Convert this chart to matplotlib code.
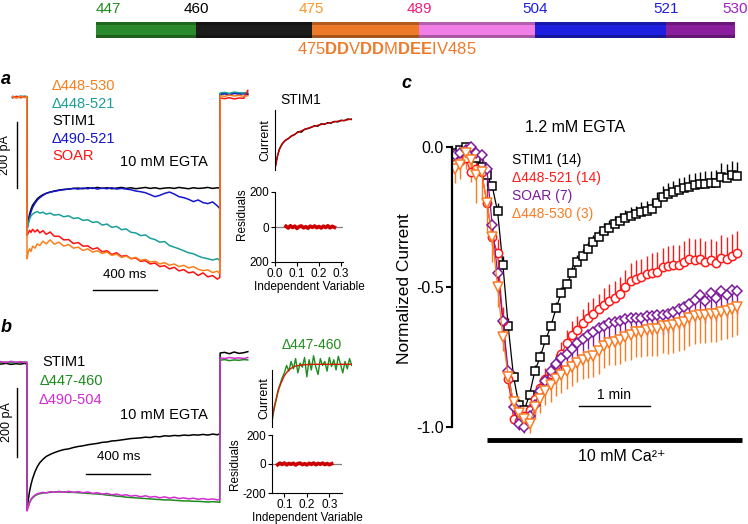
import numpy as np
import matplotlib.pyplot as plt

plt.rcParams['font.family'] = ['Liberation Sans', 'DejaVu Sans']
plt.rcParams['mathtext.fontset'] = 'custom'
plt.rcParams['mathtext.rm'] = 'Liberation Sans'
plt.rcParams['mathtext.bf'] = 'Liberation Sans:bold'

W, H = 748, 524

# ---------------- domain map ----------------
domain_edges = [447, 460, 475, 489, 504, 521, 530]
domain_colors = ['#2b8a2b', '#1c1c1c', '#ec7a28', '#f07ee6', '#1f1fe0', '#8a1f9e']
edge_label_colors = ['#1f8a1f', '#000000', '#f59a2a', '#e8207c', '#1f1fe0', '#1f1fe0', '#a020c0']
motif_text = r'475$\mathbf{DD}$V$\mathbf{DD}$M$\mathbf{DEE}$IV485'

# ---------------- panel a / b traces (ms, pA) ----------------
t_pre_a = [-90, -65, -40, -15, -1]
t_pre_b = [-165, -130, -100, -70, -40, -15, -1]
t_pulse = [0, 8, 16, 25, 35, 50, 65, 80, 100, 120,
           145, 170, 200, 230, 260, 290, 320, 350, 380, 410,
           440, 470, 500, 530, 560, 590, 620, 650, 680, 710,
           740, 770, 800, 830, 860, 890, 920, 950, 980, 1010,
           1040, 1070, 1100, 1130, 1160, 1190, 1205]
t_post = [1207, 1235, 1265, 1295, 1325, 1355, 1380]

a_colors = ['#000000', '#1515d0', '#1a9e9a', '#ff1010', '#f7801c']
a_pre = [[-2, 1, -1, 2, 0],
         [0, -2, 1, -1, 1],
         [2, 0, 3, 1, 2],
         [-1, 2, -2, 0, -1],
         [1, -3, 2, -2, 1]]
a_pulse = [
    [-400, -375, -355, -340, -328, -318, -308, -302, -296, -292,
     -288, -285, -282, -280, -279, -277, -276, -278, -275, -277,
     -274, -277, -275, -278, -276, -274, -277, -275, -278, -276,
     -274, -277, -275, -278, -276, -275, -277, -274, -276, -278,
     -275, -277, -276, -274, -277, -275, -276],
    [-400, -380, -362, -348, -335, -322, -312, -305, -298, -292,
     -288, -286, -283, -281, -279, -277, -279, -276, -278, -275,
     -279, -276, -278, -275, -279, -277, -279, -281, -285, -287,
     -290, -296, -302, -298, -292, -288, -294, -302, -305, -310,
     -317, -312, -320, -323, -318, -330, -338],
    [-405, -385, -370, -360, -355, -350, -347, -352, -349, -355,
     -352, -358, -356, -363, -360, -368, -366, -374, -372, -380,
     -378, -388, -385, -395, -392, -402, -400, -410, -412, -420,
     -418, -428, -432, -440, -438, -450, -455, -460, -466, -472,
     -475, -482, -487, -490, -494, -490, -495],
    [-420, -412, -404, -410, -401, -409, -402, -412, -405, -416,
     -409, -422, -422, -433, -432, -444, -441, -452, -451, -461,
     -457, -469, -466, -477, -472, -483, -480, -490, -488, -498,
     -496, -506, -503, -514, -511, -521, -516, -527, -523, -533,
     -530, -541, -533, -545, -541, -552, -547],
    [-490, -470, -460, -468, -452, -458, -445, -450, -437, -445,
     -433, -446, -440, -452, -447, -458, -455, -465, -460, -470,
     -466, -474, -470, -480, -476, -486, -482, -490, -486, -495,
     -492, -500, -498, -506, -502, -510, -506, -514, -510, -518,
     -514, -522, -526, -524, -532, -528, -535],
]
a_post = [[9, 11, 8, 12, 10, 11, 9],
          [8, 10, 7, 11, 9, 10, 8],
          [12, 14, 11, 15, 13, 12, 14],
          [-3, -5, -2, -6, -3, -4, 20],
          [4, 2, 6, 3, 5, 2, 4]]
a_legend = ['\u0394448-530', '\u0394448-521', 'STIM1', '\u0394490-521', 'SOAR']
a_legend_colors = ['#f7801c', '#1a9e9a', '#000000', '#1515d0', '#ff1010']

b_colors = ['#000000', '#1e8c1e', '#d22cd2']
b_pre = [[-6, -4, -7, -5, -6, -4, -6],
         [-2, 0, -3, -1, -2, 0, -1],
         [1, -2, 2, -1, 1, -2, 0]]
b_pulse = [
    [-430, -400, -375, -355, -338, -318, -303, -292, -282, -274,
     -268, -263, -258, -254, -252, -248, -245, -243, -240, -238,
     -236, -233, -232, -229, -228, -226, -224, -222, -221, -220,
     -218, -219, -216, -217, -214, -215, -213, -214, -212, -213,
     -211, -212, -210, -212, -209, -211, -208],
    [-430, -418, -408, -400, -394, -388, -384, -382, -380, -379,
     -378, -377, -377, -377, -378, -378, -379, -380, -381, -382,
     -383, -384, -386, -387, -389, -390, -392, -393, -394, -395,
     -396, -397, -398, -399, -400, -400, -401, -402, -403, -403,
     -404, -404, -405, -406, -405, -406, -407],
    [-432, -420, -408, -398, -392, -386, -382, -380, -378, -380,
     -376, -378, -375, -378, -375, -378, -376, -379, -377, -381,
     -379, -383, -381, -385, -383, -387, -385, -389, -387, -391,
     -388, -392, -390, -394, -391, -395, -392, -396, -394, -397,
     -395, -398, -396, -399, -397, -400, -398],
]
b_post = [[26, 28, 24, 29, 25, 27, 30],
          [5, 7, 4, 6, 5, 7, 6],
          [12, 10, 13, 11, 12, 10, 13]]
b_legend = ['STIM1', '\u0394447-460', '\u0394490-504']

# ---------------- fit insets ----------------
fit_a_t = [0, 0.01, 0.02, 0.035, 0.05, 0.07, 0.1, 0.13, 0.16, 0.2, 0.24, 0.28, 0.32, 0.35]
fit_a_v = [0.03, 0.22, 0.34, 0.45, 0.5, 0.55, 0.62, 0.67, 0.71, 0.75, 0.78, 0.81, 0.83, 0.85]
data_a_t = [0, 0.01, 0.02, 0.03, 0.045, 0.06, 0.075, 0.09, 0.105, 0.12,
            0.135, 0.15, 0.165, 0.18, 0.195, 0.21, 0.225, 0.24, 0.255, 0.27,
            0.285, 0.3, 0.315, 0.33, 0.35]
data_a_v = [0.02, 0.21, 0.35, 0.42, 0.49, 0.52, 0.57, 0.59, 0.64, 0.63,
            0.68, 0.69, 0.71, 0.74, 0.73, 0.77, 0.76, 0.79, 0.78, 0.81,
            0.80, 0.83, 0.82, 0.85, 0.84]
res_a_t = [0.05, 0.06, 0.07, 0.08, 0.09, 0.10, 0.11, 0.12, 0.13, 0.14,
           0.15, 0.16, 0.17, 0.18, 0.19, 0.20, 0.21, 0.22, 0.23, 0.24,
           0.25, 0.26, 0.27]
res_a_v = [4, -6, 7, -3, 5, -8, 3, 6, -5, 2,
           -7, 5, -2, 6, -4, 3, -6, 5, -3, 7,
           -5, 4, -2]

fit_b_t = [0.045, 0.055, 0.065, 0.075, 0.085, 0.1, 0.115, 0.13, 0.15, 0.18, 0.22, 0.3, 0.4]
fit_b_v = [0.15, 0.35, 0.52, 0.66, 0.77, 0.9, 0.98, 1.03, 1.07, 1.09, 1.1, 1.1, 1.1]
data_b_t = [0.045, 0.05, 0.058, 0.065, 0.072, 0.08, 0.09, 0.10, 0.11, 0.12,
            0.13, 0.14, 0.15, 0.16, 0.17, 0.18, 0.19, 0.20, 0.21, 0.22,
            0.23, 0.24, 0.25, 0.26, 0.27, 0.28, 0.29, 0.30, 0.31, 0.32,
            0.33, 0.34, 0.35, 0.36, 0.37, 0.38, 0.39, 0.40]
data_b_v = [0.08, 0.22, 0.38, 0.50, 0.65, 0.74, 0.86, 0.95, 1.08, 0.98,
            1.15, 1.02, 1.20, 0.95, 1.12, 1.05, 1.22, 0.88, 1.18, 1.00,
            1.25, 1.05, 0.92, 1.20, 1.08, 1.15, 0.98, 1.22, 1.06, 1.18,
            1.00, 1.24, 1.10, 0.95, 1.15, 1.02, 1.20, 1.08]
res_b_t = [0.07, 0.08, 0.09, 0.10, 0.11, 0.12, 0.13, 0.14, 0.15, 0.16,
           0.17, 0.18, 0.19, 0.20, 0.21, 0.22, 0.23, 0.24, 0.25, 0.26,
           0.27, 0.28, 0.29, 0.30, 0.31]
res_b_v = [-5, 6, -3, 7, -6, 4, -2, 5, -7, 3,
           6, -4, 2, -6, 5, -3, 7, -5, 4, -2,
           6, -4, 3, -5, 2]

# ---------------- panel c (s, normalized current) ----------------
c_time = 2.5 + 4.5 * np.arange(54)
stim1 = [-0.02, -0.01, 0.0, -0.02, -0.04, -0.07, -0.10, -0.14, -0.23, -0.42,
         -0.64, -0.82, -0.92, -0.94, -0.885, -0.80, -0.75, -0.69, -0.64, -0.575,
         -0.52, -0.49, -0.45, -0.41, -0.39, -0.365, -0.34, -0.32, -0.30, -0.29,
         -0.275, -0.265, -0.255, -0.245, -0.24, -0.232, -0.228, -0.222, -0.20, -0.18,
         -0.168, -0.16, -0.152, -0.146, -0.142, -0.137, -0.133, -0.131, -0.13, -0.128,
         -0.108, -0.112, -0.10, -0.105]
d448_521 = [-0.06, -0.05, -0.04, -0.09, -0.08, -0.09, -0.20, -0.32, -0.38, -0.62,
            -0.83, -0.97, -0.98, -0.96, -0.94, -0.90, -0.86, -0.83, -0.81, -0.78,
            -0.74, -0.70, -0.67, -0.655, -0.63, -0.61, -0.595, -0.58, -0.565, -0.55,
            -0.54, -0.525, -0.50, -0.48, -0.47, -0.465, -0.455, -0.45, -0.445, -0.43,
            -0.425, -0.42, -0.42, -0.41, -0.40, -0.405, -0.40, -0.41, -0.405, -0.415,
            -0.395, -0.40, -0.39, -0.38]
soar = [-0.03, -0.02, -0.01, 0.0, -0.02, -0.03, -0.08, -0.28, -0.45, -0.62,
        -0.80, -0.93, -0.99, -1.0, -0.96, -0.92, -0.87, -0.835, -0.80, -0.775,
        -0.755, -0.74, -0.72, -0.70, -0.685, -0.67, -0.66, -0.645, -0.64, -0.63,
        -0.625, -0.62, -0.615, -0.61, -0.61, -0.61, -0.605, -0.605, -0.60, -0.60,
        -0.595, -0.59, -0.58, -0.57, -0.56, -0.545, -0.53, -0.55, -0.52, -0.54,
        -0.515, -0.53, -0.51, -0.515]
d448_530 = [-0.08, -0.065, -0.02, -0.045, -0.10, -0.09, -0.20, -0.32, -0.50, -0.68,
            -0.82, -0.91, -0.95, -0.97, -0.99, -0.93, -0.90, -0.87, -0.85, -0.83,
            -0.815, -0.80, -0.785, -0.77, -0.76, -0.75, -0.745, -0.73, -0.71, -0.70,
            -0.695, -0.69, -0.68, -0.67, -0.66, -0.66, -0.655, -0.65, -0.65, -0.64,
            -0.64, -0.635, -0.63, -0.625, -0.61, -0.605, -0.60, -0.60, -0.595, -0.595,
            -0.59, -0.585, -0.58, -0.57]
stim1_err = [0.01, 0.01, 0.01, 0.01, 0.015, 0.015, 0.02, 0.02, 0.03, 0.03,
             0.03, 0.02, 0.02, 0.02, 0.02, 0.02, 0.02, 0.02, 0.02, 0.02,
             0.02, 0.02, 0.025, 0.025, 0.025, 0.025, 0.025, 0.025, 0.03, 0.03,
             0.03, 0.03, 0.03, 0.03, 0.03, 0.035, 0.035, 0.035, 0.04, 0.04,
             0.04, 0.04, 0.04, 0.04, 0.045, 0.045, 0.045, 0.045, 0.045, 0.045,
             0.05, 0.05, 0.05, 0.05]
d448_521_err = [0.03, 0.03, 0.03, 0.04, 0.04, 0.04, 0.05, 0.06, 0.05, 0.05,
                0.04, 0.03, 0.03, 0.03, 0.03, 0.035, 0.035, 0.04, 0.04, 0.04,
                0.045, 0.045, 0.05, 0.05, 0.05, 0.055, 0.055, 0.055, 0.06, 0.06,
                0.06, 0.06, 0.06, 0.065, 0.065, 0.065, 0.065, 0.07, 0.07, 0.07,
                0.07, 0.07, 0.07, 0.075, 0.075, 0.075, 0.075, 0.075, 0.075, 0.08,
                0.08, 0.08, 0.08, 0.08]
soar_err = [0.03, 0.03, 0.03, 0.03, 0.03, 0.04, 0.06, 0.07, 0.06, 0.05,
            0.04, 0.03, 0.02, 0.02, 0.03, 0.03, 0.03, 0.035, 0.035, 0.04,
            0.04, 0.04, 0.045, 0.045, 0.045, 0.05, 0.05, 0.05, 0.05, 0.055,
            0.055, 0.055, 0.06, 0.06, 0.06, 0.06, 0.065, 0.065, 0.065, 0.07,
            0.07, 0.07, 0.07, 0.075, 0.075, 0.075, 0.08, 0.08, 0.08, 0.08,
            0.08, 0.08, 0.08, 0.08]
d448_530_err = [0.05, 0.05, 0.06, 0.08, 0.10, 0.10, 0.10, 0.09, 0.07, 0.05,
                0.04, 0.03, 0.03, 0.03, 0.03, 0.04, 0.05, 0.05, 0.06, 0.06,
                0.065, 0.065, 0.07, 0.07, 0.07, 0.075, 0.075, 0.08, 0.08, 0.08,
                0.085, 0.085, 0.085, 0.09, 0.09, 0.09, 0.09, 0.095, 0.095, 0.095,
                0.1, 0.1, 0.1, 0.1, 0.1, 0.1, 0.1, 0.1, 0.1, 0.1,
                0.1, 0.1, 0.1, 0.1]
c_labels = ['STIM1 (14)', '\u0394448-521 (14)', 'SOAR (7)', '\u0394448-530 (3)']
c_colors = ['#000000', '#ff1a1a', '#7d1a9a', '#fb7b22']

fig = plt.figure(figsize=(W / 100, H / 100), dpi=100)


def px_axes(x0, y0, x1, y1):
    return fig.add_axes([x0 / W, 1 - y1 / H, (x1 - x0) / W, (y1 - y0) / H])


def ftext(x, y, s, **kw):
    fig.text(x / W, 1 - y / H, s, **kw)


def shade(c, f):
    r, g, b = plt.matplotlib.colors.to_rgb(c)
    return (r * f, g * f, b * f)


# ---- domain bar ----
ax = px_axes(96, 22, 735, 38)
ax.set_xlim(domain_edges[0], domain_edges[-1])
ax.set_ylim(-0.5, 0.5)
for i, c in enumerate(domain_colors):
    w = domain_edges[i + 1] - domain_edges[i]
    ax.barh(0, w, left=domain_edges[i], height=1.0, color=c, linewidth=0)
    ax.barh(0.42, w, left=domain_edges[i], height=0.16, color=shade(c, 0.75), linewidth=0)
    ax.barh(-0.40, w, left=domain_edges[i], height=0.2, color=shade(c, 0.7), linewidth=0)
for i, e in enumerate(domain_edges):
    ha = 'left' if i == 0 else 'center'
    ax.text(e, 1.3, str(e), ha=ha, va='center', fontsize=11, color=edge_label_colors[i])
ax.axis('off')
ftext(387, 49, motif_text, ha='center', va='center', fontsize=12, color='#ec7a28')

# ---- panel a ----
ax = px_axes(0, 85, 250, 295)
ax.set_xlim(-168.75, 1393.75)
ax.set_ylim(-600, 36.4)
ax.axis('off')
for k in range(5):
    ax.plot(t_pre_a + t_pulse + t_post, a_pre[k] + a_pulse[k] + a_post[k],
            color=a_colors[k], lw=1.1)
for k, (s, c) in enumerate(zip(a_legend, a_legend_colors)):
    ax.text(156, 33 - 53 * k, s, color=c, fontsize=10.5, va='center')
ax.text(856, -197, '10 mM EGTA', fontsize=10.5, ha='center', va='center')
ax.plot([-62.5, -62.5], [-76, -276], color='k', lw=1)
ax.text(-135, -176, '200 pA', rotation=90, ha='center', va='center', fontsize=9)
ax.plot([410, 810], [-585, -585], color='k', lw=1)
ax.text(610, -540, '400 ms', ha='center', va='center', fontsize=9.5)
ftext(1, 80, 'a', fontsize=13, fontweight='bold', fontstyle='italic', va='center')

# inset a: fit
ax = px_axes(275, 105, 352, 170)
ax.set_xlim(0, 0.35)
ax.set_ylim(0, 1.083)
ax.plot(data_a_t, data_a_v, color='k', lw=1)
ax.plot(fit_a_t, fit_a_v, color='#cc0000', lw=1)
for s in ['top', 'right', 'bottom']:
    ax.spines[s].set_visible(False)
ax.spines['left'].set_bounds(0, 1)
ax.spines['left'].set_linewidth(0.8)
ax.set_xticks([])
ax.set_yticks([])
ftext(301, 100, 'STIM1', ha='center', va='center', fontsize=10)
ftext(265, 140, 'Current', rotation=90, ha='center', va='center', fontsize=9)

ax = px_axes(275, 192, 343, 262)
ax.set_xlim(0, 0.309)
ax.set_ylim(-200, 200)
ax.axhline(0, color='#808080', lw=0.9)
ax.plot(res_a_t, res_a_v, color='#cc0000', lw=2.6)
for s in ['top', 'right']:
    ax.spines[s].set_visible(False)
ax.set_xticks([0, 0.1, 0.2, 0.3], ['0.0', '0.1', '0.2', '0.3'])
ax.set_yticks([-200, 0, 200], ['200', '0', '200'])
ax.tick_params(labelsize=8.5, length=3, width=0.8, pad=1)
ax.set_xlabel('Independent Variable', fontsize=8.5, labelpad=1)
ax.set_ylabel('Residuals', fontsize=8.5, labelpad=1)
ax.yaxis.label.set_y(0.68)

# ---- panel b ----
ax = px_axes(0, 345, 250, 520)
ax.set_xlim(-168.75, 1393.75)
ax.set_ylim(-458.2, 49.3)
ax.axis('off')
for k in range(3):
    ax.plot(t_pre_b + t_pulse + t_post, b_pre[k] + b_pulse[k] + b_post[k],
            color=b_colors[k], lw=1.1)
for k, (s, c) in enumerate(zip(b_legend, b_colors)):
    ax.text(94 - 12 * k, 0 - 55 * k, s, color=c, fontsize=10.5, va='center')
ax.text(856, -154, '10 mM EGTA', fontsize=10.5, ha='center', va='center')
ax.plot([-62.5, -62.5], [-75, -275], color='k', lw=1)
ax.text(-122, -174, '200 pA', rotation=90, ha='center', va='center', fontsize=9)
ax.plot([370, 770], [-325, -325], color='k', lw=1)
ax.text(570, -276, '400 ms', ha='center', va='center', fontsize=9.5)
ftext(1, 328, 'b', fontsize=13, fontweight='bold', fontstyle='italic', va='center')

# inset b: fit
ax = px_axes(272, 355, 352, 427)
ax.set_xlim(0.045, 0.401)
ax.set_ylim(0, 1.263)
ax.plot(data_b_t, data_b_v, color='#1e8c1e', lw=1)
ax.plot(fit_b_t, fit_b_v, color='#cc2200', lw=1)
for s in ['top', 'right', 'bottom']:
    ax.spines[s].set_visible(False)
ax.spines['left'].set_bounds(0, 1)
ax.spines['left'].set_linewidth(0.8)
ax.set_xticks([])
ax.set_yticks([])
ftext(312, 345, '\u0394447-460', ha='center', va='center', fontsize=10, color='#1e8c1e')
ftext(264, 398, 'Current', rotation=90, ha='center', va='center', fontsize=9)

ax = px_axes(272, 435, 342, 493)
ax.set_xlim(0.045, 0.356)
ax.set_ylim(-200, 200)
ax.axhline(0, color='#808080', lw=0.9)
ax.plot(res_b_t, res_b_v, color='#cc0000', lw=2.6)
for s in ['top', 'right']:
    ax.spines[s].set_visible(False)
ax.set_xticks([0.1, 0.2, 0.3], ['0.1', '0.2', '0.3'])
ax.set_yticks([-200, 0, 200], ['-200', '0', '200'])
ax.tick_params(labelsize=8.5, length=3, width=0.8, pad=1)
ax.set_xlabel('Independent Variable', fontsize=8.5, labelpad=1)
ax.set_ylabel('Residuals', fontsize=8.5, labelpad=1)

# ---- panel c ----
ax = px_axes(452, 140, 745, 445)
ax.set_xlim(0, 247.6)
ax.set_ylim(-1.0643, 0.025)
series = [stim1, d448_521, soar, d448_530]
errs = [stim1_err, d448_521_err, soar_err, d448_530_err]
err_up = [True, True, False, False]
markers = ['s', 'o', 'D', 'v']
msizes = [6, 6, 5.5, 6.5]
zero = [0.0] * len(c_time)
for y, e, up, m, ms, c in zip(series, errs, err_up, markers, msizes, c_colors):
    yerr = [zero, e] if up else [e, zero]
    ax.errorbar(c_time, y, yerr=yerr, color=c, lw=0.9, elinewidth=1.0, capsize=0,
                marker=m, ms=ms, mfc='white', mec=c, mew=1.1)
for s in ['top', 'right', 'bottom']:
    ax.spines[s].set_visible(False)
ax.spines['left'].set_bounds(-1, 0)
ax.spines['left'].set_linewidth(1.6)
ax.set_xticks([])
ax.set_yticks([0, -0.5, -1.0], ['0.0', '-0.5', '-1.0'])
ax.tick_params(axis='y', labelsize=11.5, length=4, width=1.5, pad=2)
for k, (s, c) in enumerate(zip(c_labels, c_colors)):
    ax.text(50.7, -0.046 - 0.064 * k, s, color=c, fontsize=10, va='center')
ax.text(103.9, 0.071, '1.2 mM EGTA', ha='center', va='center', fontsize=11.5)
ax.plot([107.3, 167.3], [-0.925, -0.925], color='k', lw=1)
ax.text(137.3, -0.886, '1 min', ha='center', va='center', fontsize=10)
ax.plot([29.6, 245.1], [-1.046, -1.046], color='k', lw=3.5, clip_on=False,
        solid_capstyle='butt')
ax.text(143.7, -1.104, '10 mM Ca\u00b2\u207a', ha='center', va='center', fontsize=11.5)
ftext(404, 289, 'Normalized Current', rotation=90, ha='center', va='center', fontsize=12.5)
ftext(401, 83, 'c', fontsize=13, fontweight='bold', fontstyle='italic', va='center')

fig.savefig('out.png', dpi=100)
